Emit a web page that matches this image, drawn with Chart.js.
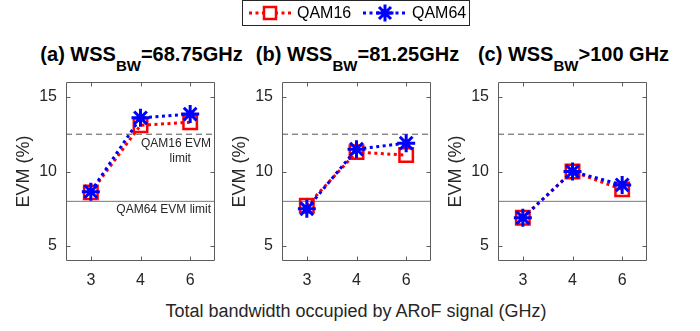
<!DOCTYPE html>
<html>
<head>
<meta charset="utf-8">
<script src="https://cdn.jsdelivr.net/npm/chart.js@4.4.1/dist/chart.umd.min.js"></script>
<style>
  html, body { margin: 0; padding: 0; background: #fff; }
  body { width: 700px; height: 331px; position: relative; overflow: hidden;
         font-family: 'Liberation Sans', Arial, sans-serif; color: #262626; }
  .panel { position: absolute; top: 70px; }
  .title { position: absolute; top: 44px; width: 260px; text-align: center;
           font-weight: bold; font-size: 20px; line-height: 20px; color: #000; white-space: nowrap; }
  .title .sub { font-size: 15px; position: relative; top: 10px; }
  #xlabel { position: absolute; left: 0; width: 712px; top: 300px; text-align: center;
            font-size: 18px; line-height: 22px; }
  #legend { position: absolute; left: 242px; top: 0; }
</style>
</head>
<body>
<canvas id="legend" width="228" height="26"></canvas>

<div class="title" id="titleA"></div>
<div class="title" id="titleB"></div>
<div class="title" id="titleC"></div>

<div class="panel" style="left:6px"><canvas id="chartA" width="221" height="226"></canvas></div>
<div class="panel" style="left:222px"><canvas id="chartB" width="221" height="226"></canvas></div>
<div class="panel" style="left:438px"><canvas id="chartC" width="221" height="226"></canvas></div>

<div id="xlabel">Total bandwidth occupied by ARoF signal (GHz)</div>

<script>
// Data
const bandwidth = ['3', '4', '6'];
const evmTicks = [5, 10, 15];
const evmMin = 4;
const evmMax = 16;

const qam16A = [8.6, 13.1, 13.3];
const qam64A = [8.65, 13.6, 13.85];
const qam16B = [7.7, 11.3, 11.1];
const qam64B = [7.5, 11.5, 11.9];
const qam16C = [6.9, 10.0, 8.8];
const qam64C = [6.9, 10.0, 9.1];

const qam16Limit = 12.5;
const qam64Limit = 8;

const seriesNames = ['QAM16', 'QAM64'];

// Styles
const RED = '#ff0000';
const BLUE = '#0000ff';
const AXIS = '#5c5c5c';
const TEXT = '#262626';
const FONT = "'Liberation Sans', Arial, sans-serif";

const PANELS = [
    { canvas: 'chartA', title: 'titleA', label: '(a) WSS', sub: 'BW', rest: '=68.75GHz', plotLeft: 66,
      q16: qam16A, q64: qam64A,
      notes: [
          { text: 'QAM16 EVM', x: 2.42, y: 11.87, align: 'right' },
          { text: 'limit', x: 1.80, y: 10.84, align: 'center' },
          { text: 'QAM64 EVM limit', x: 2.42, y: 7.41, align: 'right' }
      ] },
    { canvas: 'chartB', title: 'titleB', label: '(b) WSS', sub: 'BW', rest: '=81.25GHz', plotLeft: 282,
      q16: qam16B, q64: qam64B, notes: [] },
    { canvas: 'chartC', title: 'titleC', label: '(c) WSS', sub: 'BW', rest: '>100 GHz', plotLeft: 498,
      q16: qam16C, q64: qam64C, notes: [] }
];

function toPoints(values) {
    return values.map((v, i) => ({ x: i, y: v }));
}

function limitLine(value) {
    return [{ x: -0.5, y: value }, { x: bandwidth.length - 0.5, y: value }];
}

function noPadding(s) {
    s.paddingTop = 0; s.paddingBottom = 0; s.paddingLeft = 0; s.paddingRight = 0;
}

// MATLAB-like box with inward ticks + text notes
const boxPlugin = {
    id: 'matlabBox',
    afterDraw(chart, args, opts) {
        const { ctx, chartArea: a, scales: { x, y } } = chart;
        const l = Math.round(a.left) + 0.5, r = Math.round(a.right) - 0.5;
        const t = Math.round(a.top) + 0.5, b = Math.round(a.bottom) - 0.5;
        ctx.save();
        ctx.strokeStyle = AXIS;
        ctx.lineWidth = 1;
        ctx.beginPath();
        ctx.rect(l, t, r - l, b - t);
        evmTicks.forEach(v => {
            const py = Math.round(y.getPixelForValue(v)) + 0.5;
            ctx.moveTo(l, py); ctx.lineTo(l + 4, py);
            ctx.moveTo(r, py); ctx.lineTo(r - 4, py);
        });
        bandwidth.forEach((_, i) => {
            const px = Math.round(x.getPixelForValue(i)) + 0.5;
            ctx.moveTo(px, b); ctx.lineTo(px, b - 4);
            ctx.moveTo(px, t); ctx.lineTo(px, t + 4);
        });
        ctx.stroke();

        ctx.fillStyle = TEXT;
        ctx.font = '12px ' + FONT;
        ctx.textBaseline = 'middle';
        (opts.notes || []).forEach(n => {
            ctx.textAlign = n.align;
            ctx.fillText(n.text, x.getPixelForValue(n.x), y.getPixelForValue(n.y));
        });
        ctx.restore();
    }
};

function buildChart(p) {
    const titleEl = document.getElementById(p.title);
    titleEl.innerHTML = p.label + '<span class="sub">' + p.sub + '</span>' + p.rest;
    titleEl.style.left = (p.plotLeft + 75.5 - 130) + 'px';

    return new Chart(document.getElementById(p.canvas).getContext('2d'), {
        type: 'line',
        data: {
            datasets: [
                {
                    label: seriesNames[1],
                    data: toPoints(p.q64),
                    order: 0,
                    borderColor: BLUE,
                    borderWidth: 3,
                    borderDash: [3, 3.5],
                    pointStyle: 'star',
                    pointRadius: 9,
                    pointBorderWidth: 3,
                    pointBorderColor: BLUE,
                    pointBackgroundColor: BLUE
                },
                {
                    label: seriesNames[0],
                    data: toPoints(p.q16),
                    order: 1,
                    borderColor: RED,
                    borderWidth: 3,
                    borderDash: [3, 3.5],
                    pointStyle: 'rect',
                    pointRadius: 9.5,
                    pointBorderWidth: 2.5,
                    pointBorderColor: RED,
                    pointBackgroundColor: 'rgba(0,0,0,0)'
                },
                {
                    label: 'QAM16 limit',
                    data: limitLine(qam16Limit),
                    order: 2,
                    borderColor: '#555',
                    borderWidth: 1,
                    borderDash: [6, 4],
                    pointRadius: 0
                },
                {
                    label: 'QAM64 limit',
                    data: limitLine(qam64Limit),
                    order: 3,
                    borderColor: '#777',
                    borderWidth: 1,
                    pointRadius: 0
                }
            ]
        },
        options: {
            responsive: false,
            animation: false,
            devicePixelRatio: 1,
            layout: { padding: { top: 6, right: 10, bottom: 5, left: 0 } },
            plugins: {
                legend: { display: false },
                tooltip: { enabled: false },
                matlabBox: { notes: p.notes }
            },
            scales: {
                x: {
                    type: 'linear',
                    min: -0.5,
                    max: bandwidth.length - 0.5,
                    grid: { display: false, drawTicks: false },
                    border: { display: false },
                    afterBuildTicks: s => { s.ticks = bandwidth.map((_, i) => ({ value: i })); },
                    afterFit: s => { s.height = 30; noPadding(s); },
                    ticks: {
                        padding: 10,
                        color: TEXT,
                        font: { family: FONT, size: 16 },
                        callback: v => bandwidth[v]
                    }
                },
                y: {
                    min: evmMin,
                    max: evmMax,
                    grid: { display: false, drawTicks: false },
                    border: { display: false },
                    afterBuildTicks: s => { s.ticks = evmTicks.map(v => ({ value: v })); },
                    afterFit: s => { s.width = 60; noPadding(s); },
                    ticks: {
                        padding: 9,
                        color: TEXT,
                        font: { family: FONT, size: 16 }
                    },
                    title: {
                        display: true,
                        text: 'EVM (%)',
                        color: TEXT,
                        font: { family: FONT, size: 18 },
                        padding: { top: 7, bottom: 0 }
                    }
                }
            }
        },
        plugins: [boxPlugin]
    });
}

function drawLegend() {
    const cv = document.getElementById('legend');
    const ctx = cv.getContext('2d');
    ctx.strokeStyle = '#262626';
    ctx.lineWidth = 1;
    ctx.strokeRect(0.5, 0.5, cv.width - 1, cv.height - 1);

    const items = [
        { name: seriesNames[0], color: RED, style: 'rect', radius: 8.5, width: 2.5, x0: 7, x1: 49, mx: 28, tx: 55 },
        { name: seriesNames[1], color: BLUE, style: 'star', radius: 8.5, width: 3, x0: 121, x1: 164, mx: 143, tx: 170 }
    ];
    const cy = 13;
    items.forEach(it => {
        ctx.save();
        ctx.strokeStyle = it.color;
        ctx.lineWidth = 3;
        ctx.setLineDash([3, 3.5]);
        ctx.beginPath();
        ctx.moveTo(it.x0, cy); ctx.lineTo(it.x1, cy);
        ctx.stroke();
        ctx.restore();

        ctx.save();
        ctx.strokeStyle = it.color;
        ctx.fillStyle = it.style === 'star' ? it.color : '#fff';
        ctx.lineWidth = it.width;
        if (Chart.helpers && Chart.helpers.drawPoint) {
            Chart.helpers.drawPoint(ctx, { pointStyle: it.style, radius: it.radius, borderWidth: it.width, rotation: 0 }, it.mx, cy);
        }
        ctx.restore();

        ctx.fillStyle = '#000';
        ctx.font = '16px ' + FONT;
        ctx.textBaseline = 'middle';
        ctx.textAlign = 'left';
        ctx.fillText(it.name, it.tx, cy + 1);
    });
}

PANELS.forEach(buildChart);
drawLegend();
</script>
</body>
</html>
